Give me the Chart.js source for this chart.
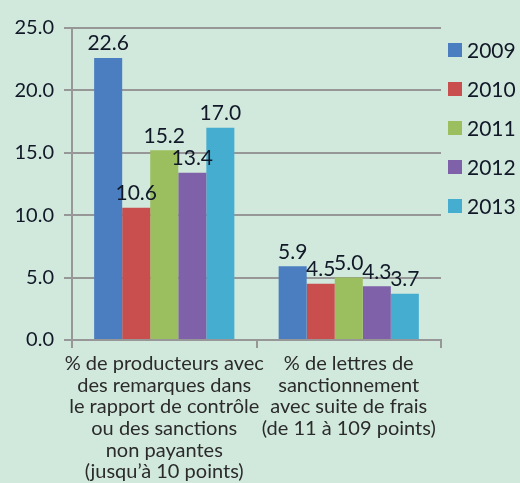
<!DOCTYPE html>
<html>
<head>
<meta charset="utf-8">
<script src="https://cdn.jsdelivr.net/npm/chart.js@4"></script>
<style>
  html, body { margin: 0; padding: 0; background: #d1e9dc; }
  #wrap { width: 520px; height: 483px; position: relative; }
</style>
</head>
<body>
<div id="wrap"><canvas id="chart"></canvas></div>
<script>
// categories (multi-line labels)
const categories = [
  ['% de producteurs avec', 'des remarques dans', 'le rapport de contrôle', 'ou des sanctions', 'non payantes', '(jusqu\u2019à 10 points)'],
  ['% de lettres de', 'sanctionnement', 'avec suite de frais', '(de 11 à 109 points)']
];
const years = ['2009', '2010', '2011', '2012', '2013'];
const values2009 = [22.6, 5.9];
const values2010 = [10.6, 4.5];
const values2011 = [15.2, 5.0];
const values2012 = [13.4, 4.3];
const values2013 = [17.0, 3.7];
const seriesColors = ['#4a7ec1', '#c84f4d', '#9bbe5e', '#7e61a8', '#45aed0'];

const fontFam = 'Lato, "Open Sans", sans-serif';

// value labels above each bar
const valueLabels = {
  id: 'valueLabels',
  afterDatasetsDraw(chart) {
    const ctx = chart.ctx;
    ctx.save();
    ctx.font = '21px ' + fontFam;
    ctx.fillStyle = '#111827';
    ctx.textAlign = 'center';
    ctx.textBaseline = 'bottom';
    chart.data.datasets.forEach((ds, i) => {
      chart.getDatasetMeta(i).data.forEach((bar, j) => {
        ctx.fillText(ds.data[j].toFixed(1), bar.x, bar.y - 4);
      });
    });
    ctx.restore();
  }
};

// legend drawn to the right of the plot
const sideLegend = {
  id: 'sideLegend',
  afterDraw(chart) {
    const ctx = chart.ctx;
    ctx.save();
    ctx.font = '21px ' + fontFam;
    ctx.textBaseline = 'middle';
    chart.data.datasets.forEach((ds, i) => {
      const y = 50 + i * 39;
      ctx.fillStyle = ds.backgroundColor;
      ctx.fillRect(448, y - 7, 14, 14);
      ctx.fillStyle = '#111827';
      ctx.fillText(ds.label, 467, y + 1);
    });
    ctx.restore();
  }
};

const allValues = [values2009, values2010, values2011, values2012, values2013];

new Chart(document.getElementById('chart'), {
  type: 'bar',
  data: {
    labels: categories,
    datasets: years.map((y, i) => ({
      label: y,
      data: allValues[i],
      backgroundColor: seriesColors[i],
      barPercentage: 1,
      categoryPercentage: 0.76
    }))
  },
  options: {
    responsive: true,
    maintainAspectRatio: false,
    animation: false,
    layout: { padding: { top: 28, right: 79, left: 0, bottom: 0 } },
    plugins: {
      legend: { display: false },
      tooltip: { enabled: false }
    },
    scales: {
      x: {
        offset: true,
        grid: { offset: true, drawOnChartArea: false, drawTicks: true, tickLength: 8, color: '#979797', lineWidth: 2 },
        border: { color: '#979797', width: 2 },
        ticks: { color: '#2b2b2b', font: { family: fontFam, size: 20, lineHeight: 1.08 }, maxRotation: 0, autoSkip: false, padding: 5 },
        afterFit(scale) { scale.height = 143; }
      },
      y: {
        min: 0, max: 25,
        ticks: { stepSize: 5, callback: v => v.toFixed(1), color: '#111827', font: { family: fontFam, size: 20 }, padding: 10 },
        grid: { color: '#979797', lineWidth: 2, tickLength: 8 },
        border: { color: '#979797', width: 2 },
        afterFit(scale) { scale.width = 72; }
      }
    }
  },
  plugins: [valueLabels, sideLegend]
});
</script>
</body>
</html>
